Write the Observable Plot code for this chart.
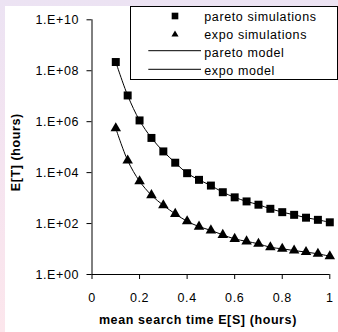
<!DOCTYPE html>
<html>
<head>
<meta charset="utf-8">
<script src="https://cdn.jsdelivr.net/npm/d3@7"></script>
<script src="https://cdn.jsdelivr.net/npm/@observablehq/plot@0.6"></script>
<style>
  html, body { margin: 0; padding: 0; }
  body {
    width: 338px; height: 332px; overflow: hidden; position: relative;
    background: linear-gradient(to bottom, #ece3f3 0%, #f5e4f0 50%, #fce6ec 100%);
    font-family: "Liberation Sans", Arial, sans-serif;
  }
  #panel { position: absolute; left: 5px; top: 6px; right: 0; bottom: 0; background: #fff; }
  #chart { position: absolute; left: 0; top: 0; }
  #legend { position: absolute; left: 130px; top: 6px; }
</style>
</head>
<body>
<div id="panel"></div>
<div id="chart"></div>
<svg id="legend" width="208" height="74"></svg>
<script>
// ---- data ----
const xValues = [0.1, 0.15, 0.2, 0.25, 0.3, 0.35, 0.4, 0.45, 0.5, 0.55, 0.6, 0.65, 0.7, 0.75, 0.8, 0.85, 0.9, 0.95, 1.0];
const paretoSim = [2.2e8, 1.07e7, 1.12e6, 2.3e5, 6.8e4, 2.45e4, 9.5e3, 5.2e3, 3.1e3, 1.7e3, 1.07e3, 740, 550, 380, 280, 220, 170, 140, 112];
const expoSim = [5.5e5, 3.0e4, 4.6e3, 1.3e3, 520, 240, 123, 76, 54, 36, 25, 20, 16, 11.7, 10.2, 8.7, 7.6, 6.5, 5.2];
const paretoModel = paretoSim;
const expoModel = expoSim;
const seriesNames = ["pareto simulations", "expo simulations", "pareto model", "expo model"];
const xTicks = [0, 0.2, 0.4, 0.6, 0.8, 1];
const xTickLabels = ["0", "0.2", "0.4", "0.6", "0.8", "1"];
const yTicks = [1, 1e2, 1e4, 1e6, 1e8, 1e10];
const yTickLabels = ["1.E+00", "1.E+02", "1.E+04", "1.E+06", "1.E+08", "1.E+10"];
const xTitle = "mean search time E[S] (hours)";
const yTitle = "E[T] (hours)";

const toRows = (ys) => xValues.map((x, i) => ({x, y: ys[i]}));
const pSim = toRows(paretoSim), eSim = toRows(expoSim);
const pMod = toRows(paretoModel), eMod = toRows(expoModel);

const font = {fontSize: 12.5, fontFamily: "Liberation Sans, Arial, sans-serif"};

const chart = Plot.plot({
  width: 338,
  height: 332,
  marginLeft: 91.5,
  marginRight: 8.7,
  marginTop: 19.3,
  marginBottom: 58,
  style: {background: "transparent", fontFamily: "Liberation Sans, Arial, sans-serif", fontSize: "12.5px", color: "#000", letterSpacing: "0.6px"},
  x: {domain: [0, 1]},
  y: {type: "log", domain: [1, 1e10]},
  marks: [
    Plot.axisY({ticks: yTicks, tickFormat: d => yTickLabels[yTicks.indexOf(d)], tickSize: 5, tickPadding: 8, label: null, stroke: "#000", strokeOpacity: 1, ...font}),
    Plot.axisX({ticks: xTicks, tickFormat: d => xTickLabels[xTicks.indexOf(d)], tickSize: 5, tickPadding: 14, label: null, stroke: "#000", strokeOpacity: 1, ...font}),
    Plot.ruleX([0], {stroke: "#000"}),
    Plot.ruleY([1], {stroke: "#000"}),
    Plot.line(pMod, {x: "x", y: "y", curve: "catmull-rom", stroke: "#000", strokeWidth: 1}),
    Plot.line(eMod, {x: "x", y: "y", curve: "catmull-rom", stroke: "#000", strokeWidth: 1}),
    Plot.dot(pSim, {x: "x", y: "y", symbol: d3.symbolSquare, r: 4.5, fill: "#000", stroke: "none"}),
    Plot.dot(eSim, {x: "x", y: "y", symbol: d3.symbolTriangle, r: 3.9, fill: "#000", stroke: "none"}),
    Plot.text([yTitle], {frameAnchor: "left", dx: -76.5, dy: 5, rotate: -90, fontWeight: "bold", fontSize: 12.5, fill: "#000", textAnchor: "middle"}),
    Plot.text([xTitle], {frameAnchor: "bottom", dx: -13, dy: 49, fontWeight: "bold", fontSize: 12.5, fill: "#000", textAnchor: "middle"})
  ]
});
chart.querySelectorAll("text").forEach(t => {});
document.getElementById("chart").appendChild(chart);

// ---- legend ----
const lg = d3.select("#legend");
lg.append("rect").attr("x", 0.5).attr("y", 0.5).attr("width", 207).attr("height", 73)
  .attr("fill", "#fff").attr("stroke", "#000").attr("stroke-width", 1);
const baselines = [14.5, 33.3, 51, 69];
seriesNames.forEach((name, i) => {
  lg.append("text").attr("x", 74.3).attr("y", baselines[i]).text(name)
    .attr("font-family", "Liberation Sans, Arial, sans-serif").attr("font-size", 12.5)
    .attr("letter-spacing", "0.6px").attr("fill", "#000");
});
lg.append("path").attr("transform", "translate(45,10)").attr("d", d3.symbol(d3.symbolSquare, 44)()).attr("fill", "#000");
lg.append("path").attr("transform", "translate(45,28.5)").attr("d", d3.symbol(d3.symbolTriangle, 22)()).attr("fill", "#000");
[44.7, 63.3].forEach(y => {
  lg.append("line").attr("x1", 18.3).attr("x2", 71).attr("y1", y).attr("y2", y).attr("stroke", "#000").attr("stroke-width", 1);
});
</script>
</body>
</html>
